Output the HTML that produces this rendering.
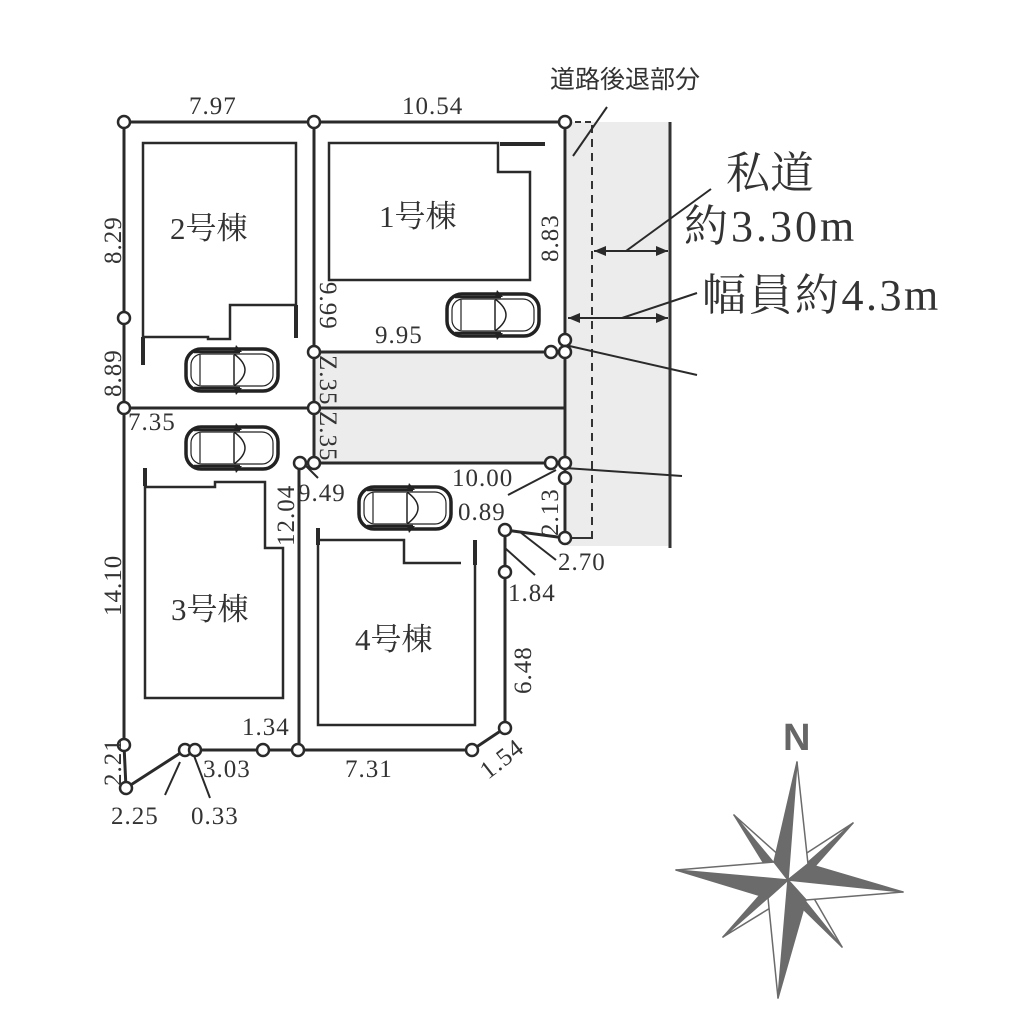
<!DOCTYPE html>
<html><head><meta charset="utf-8"><style>
html,body{margin:0;padding:0;background:#fff;}
svg{display:block;}
text{font-family:"Liberation Serif","Noto Serif CJK SC",serif;fill:#333;}
</style></head><body>
<svg width="1024" height="1024" viewBox="0 0 1024 1024" xmlns="http://www.w3.org/2000/svg">
<defs>
<g id="car">
<rect x="-46" y="-21" width="92" height="42" rx="15" fill="#fff" stroke="#222" stroke-width="3.5"/>
<rect x="-41" y="-16" width="82" height="32" rx="11" fill="none" stroke="#222" stroke-width="1.2"/>
<line x1="-32" y1="-15" x2="-32" y2="15" stroke="#222" stroke-width="1.2"/>
<line x1="2" y1="-15" x2="2" y2="15" stroke="#222" stroke-width="1.5"/>
<path d="M2,-16 Q24,0 2,16" fill="none" stroke="#222" stroke-width="1.5"/>
<line x1="-38" y1="-18" x2="8" y2="-18" stroke="#222" stroke-width="2.5"/>
<line x1="-38" y1="18" x2="8" y2="18" stroke="#222" stroke-width="2.5"/>
<polygon points="4,-25 10,-18 2,-18" fill="#222"/>
<polygon points="4,25 10,18 2,18" fill="#222"/>
</g>
</defs>
<rect x="567" y="122" width="103" height="424" fill="#ececec"/>
<line x1="670" y1="122" x2="670" y2="548" stroke="#333" stroke-width="3"/>
<line x1="592" y1="125" x2="592" y2="540" stroke="#333" stroke-width="2" stroke-dasharray="8,6"/>
<line x1="565" y1="122" x2="592" y2="122" stroke="#333" stroke-width="2" stroke-dasharray="6,4"/>
<line x1="565" y1="538" x2="592" y2="538" stroke="#333" stroke-width="2"/>
<rect x="314" y="352" width="251" height="111" fill="#ececec"/>
<g stroke="#2a2a2a" stroke-width="3" fill="none">
<polyline points="124,122 565,122 565,538"/>
<polyline points="124,122 124,745 126,788 185,750 472,750 505,728 505,530 565,538"/>
<line x1="314" y1="122" x2="314" y2="463"/>
<line x1="314" y1="352" x2="565" y2="352"/>
<line x1="124" y1="408" x2="565" y2="408"/>
<line x1="299" y1="463" x2="565" y2="463"/>
<line x1="299" y1="463" x2="299" y2="750"/>
</g>
<g stroke="#2a2a2a" stroke-width="2.5" fill="none">
<polyline points="143,365 143,143 296,143 296,338"/>
<polyline points="143,337 208,337 208,339 230,339 230,305 296,305"/>
<polygon points="329,143 498,143 498,172 530,172 530,280 329,280"/>
<polyline points="145,468 145,487 215,487 215,482 265,482 265,548 283,548 283,698 145,698 145,487"/>
<polyline points="318,530 318,725 475,725 475,540"/>
<polyline points="318,540 404,540 404,563 461,563"/>
</g>
<g stroke="#2a2a2a" stroke-width="4">
<line x1="143" y1="337" x2="143" y2="365"/>
<line x1="296" y1="305" x2="296" y2="338"/>
<line x1="500" y1="144" x2="545" y2="144"/>
<line x1="145" y1="468" x2="145" y2="486"/>
<line x1="318" y1="528" x2="318" y2="545"/>
<line x1="475" y1="540" x2="475" y2="565"/>
</g>
<use href="#car" transform="translate(493,315)"/>
<use href="#car" transform="translate(232,370)"/>
<use href="#car" transform="translate(232,448)"/>
<use href="#car" transform="translate(405,508)"/>
<g stroke="#2a2a2a" stroke-width="2" fill="none">
<line x1="573" y1="156" x2="607" y2="107"/>
<line x1="594" y1="251" x2="668" y2="251"/>
<line x1="568" y1="318" x2="668" y2="318"/>
<line x1="626" y1="251" x2="711" y2="189"/>
<line x1="622" y1="318" x2="697" y2="293"/>
<line x1="565" y1="345" x2="697" y2="375"/>
<line x1="565" y1="468" x2="682" y2="476"/>
<line x1="556" y1="470" x2="508" y2="495"/>
<line x1="520" y1="532" x2="556" y2="560"/>
<line x1="505" y1="548" x2="535" y2="575"/>
<line x1="180" y1="762" x2="165" y2="795"/>
<line x1="193" y1="753" x2="210" y2="798"/>
<line x1="303" y1="463" x2="318" y2="478"/>
</g>
<g fill="#2a2a2a">
<polygon points="594,251 606,246 606,256"/><polygon points="668,251 656,246 656,256"/>
<polygon points="568,318 580,313 580,323"/><polygon points="668,318 656,313 656,323"/>
</g>
<g fill="#fff" stroke="#2a2a2a" stroke-width="2.5">
<circle cx="124" cy="122" r="6"/><circle cx="314" cy="122" r="6"/><circle cx="565" cy="122" r="6"/>
<circle cx="124" cy="318" r="6"/><circle cx="124" cy="408" r="6"/><circle cx="124" cy="745" r="6"/>
<circle cx="126" cy="788" r="6"/><circle cx="185" cy="750" r="6"/><circle cx="195" cy="750" r="6"/>
<circle cx="263" cy="750" r="6"/><circle cx="298" cy="750" r="6"/><circle cx="472" cy="750" r="6"/>
<circle cx="505" cy="728" r="6"/><circle cx="505" cy="572" r="6"/><circle cx="505" cy="530" r="6"/>
<circle cx="565" cy="538" r="6"/>
<circle cx="565" cy="340" r="6"/><circle cx="565" cy="352" r="6"/><circle cx="551" cy="352" r="6"/>
<circle cx="551" cy="463" r="6"/><circle cx="565" cy="463" r="6"/><circle cx="565" cy="478" r="6"/>
<circle cx="314" cy="352" r="6"/><circle cx="314" cy="408" r="6"/><circle cx="314" cy="463" r="6"/><circle cx="300" cy="463" r="6"/>
</g>
<g font-size="25" letter-spacing="1">
<text x="189" y="114">7.97</text>
<text x="402" y="114">10.54</text>
<text x="375" y="343">9.95</text>
<text x="128" y="430">7.35</text>
<text x="452" y="486">10.00</text>
<text x="458" y="520">0.89</text>
<text x="558" y="570">2.70</text>
<text x="508" y="601">1.84</text>
<text x="298" y="501">9.49</text>
<text x="242" y="735">1.34</text>
<text x="203" y="777">3.03</text>
<text x="345" y="777">7.31</text>
<text x="111" y="824">2.25</text>
<text x="191" y="824">0.33</text>
<text transform="translate(121,264) rotate(-90)">8.29</text>
<text transform="translate(121,397) rotate(-90)">8.89</text>
<text transform="translate(121,616) rotate(-90)">14.10</text>
<text transform="translate(121,786) rotate(-90)">2.21</text>
<text transform="translate(294,546) rotate(-90)">12.04</text>
<text transform="translate(558,262) rotate(-90)">8.83</text>
<text transform="translate(558,536) rotate(-90)">2.13</text>
<text transform="translate(531,694) rotate(-90)">6.48</text>
<text transform="translate(488,780) rotate(-38)">1.54</text>
<text transform="translate(320,282) rotate(90)">9.99</text>
<text transform="translate(320,355) rotate(90)">Z.35</text>
<text transform="translate(320,411) rotate(90)">Z.35</text>
</g>
<g font-size="31">
<text x="170" y="239">2号棟</text>
<text x="379" y="227">1号棟</text>
<text x="171" y="620">3号棟</text>
<text x="355" y="650">4号棟</text>
</g>
<text x="550" y="88" font-size="25" style="font-family:'Noto Sans CJK JP',sans-serif">道路後退部分</text>
<text x="726" y="188" font-size="44">私道</text>
<text x="684" y="241" font-size="44" letter-spacing="3">約3.30m</text>
<text x="702" y="310" font-size="44" letter-spacing="2.5">幅員約4.3m</text>
<text x="783" y="750" font-size="38" font-weight="bold" style="font-family:'Liberation Sans',sans-serif;fill:#666">N</text>
<g stroke="#6b6b6b" stroke-width="1.5" stroke-linejoin="round">
<polygon points="788,880 734,815 768,870" fill="#6b6b6b"/>
<polygon points="788,880 734,815 782,858" fill="#fff"/>
<polygon points="788,880 853,823 796,860" fill="#fff"/>
<polygon points="788,880 853,823 808,874" fill="#6b6b6b"/>
<polygon points="788,880 842,947 808,888" fill="#fff"/>
<polygon points="788,880 842,947 796,902" fill="#6b6b6b"/>
<polygon points="788,880 723,937 780,902" fill="#fff"/>
<polygon points="788,880 723,937 768,886" fill="#6b6b6b"/>
<polygon points="788,880 797,762 774,862" fill="#6b6b6b"/>
<polygon points="788,880 797,762 808,864" fill="#fff"/>
<polygon points="788,880 903,892 808,864" fill="#6b6b6b"/>
<polygon points="788,880 903,892 806,900" fill="#fff"/>
<polygon points="788,880 778,998 806,900" fill="#6b6b6b"/>
<polygon points="788,880 778,998 768,898" fill="#fff"/>
<polygon points="788,880 676,870 768,898" fill="#6b6b6b"/>
<polygon points="788,880 676,870 774,862" fill="#fff"/>
</g>
</svg>
</body></html>
